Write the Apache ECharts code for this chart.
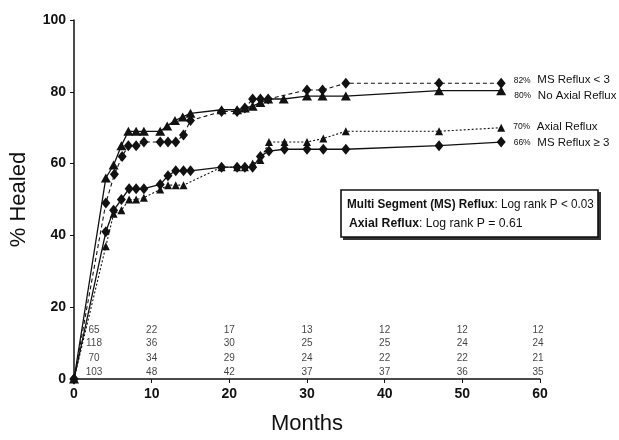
<!DOCTYPE html>
<html>
<head>
<meta charset="utf-8">
<script src="https://cdn.jsdelivr.net/npm/echarts@6/dist/echarts.min.js"></script>
<style>
  html, body { margin: 0; padding: 0; background: #fff; }
  #chart { width: 619px; height: 440px; }
</style>
</head>
<body>
<div id="chart"></div>
<script>
// curves: [month, % healed]
var msLow = [[0,0],[4.1,49],[5.2,57],[6.2,62],[7,65],[8,65],[9,66],[11.1,66],[12.1,66],[13.1,66],[14.1,68],[15,72],[19,74.5],[21,74.5],[22,75.5],[23,78],[24,78],[25,78],[30,80.5],[32,80.5],[35,82.4],[47,82.4],[55,82.4]];
var noAxial = [[0,0],[4.1,56],[5.1,59.6],[6.1,65],[7,69],[8,69],[9,69],[11.1,69],[12,70.5],[13,72],[14,73],[15,74],[19,75],[21,75],[22,75.5],[23,76],[24,77],[25,78],[27,78],[30,78.8],[32,78.8],[35,78.8],[47,80.3],[55,80.3]];
var axial = [[0,0],[4.1,37],[5.1,46],[6.1,47],[7.1,50],[8,50],[9,50.5],[11.1,52.8],[12.1,54],[13.1,54],[14.1,54],[19,59],[21,59],[22,59],[23,60],[24,61],[25.1,66],[27.1,66],[30,66],[32.1,67],[35,69],[47,69],[55,70]];
var msHigh = [[0,0],[4.1,41],[5.1,47],[6.1,50],[7.1,53],[8,53],[9,53],[11.1,54.2],[12.1,56.6],[13.1,58],[14.1,58],[15,58],[19,59],[21,59],[22,59],[23,59],[24,62],[25.1,63.5],[27.1,64],[30,64],[32.1,64],[35,64],[47,65],[55,66]];

var curveNames = ['MS Reflux < 3', 'No Axial Reflux', 'Axial Reflux', 'MS Reflux \u2265 3'];
var curvePct = ['82%', '80%', '70%', '66%'];

// numbers at risk
var riskMonths = [0, 10, 20, 30, 40, 50, 60];
var riskRows = [
  [65, 22, 17, 13, 12, 12, 12],
  [118, 36, 30, 25, 25, 24, 24],
  [70, 34, 29, 24, 22, 22, 21],
  [103, 48, 42, 37, 37, 36, 35]
];

var xTicks = [0, 10, 20, 30, 40, 50, 60];
var yTicks = [0, 20, 40, 60, 80, 100];

var sans = '"Liberation Sans", Arial, sans-serif';

function withEndLabel(data, idx, dy) {
  var out = data.slice(0, data.length - 1);
  var last = data[data.length - 1];
  out.push({
    value: last,
    label: {
      show: true,
      position: 'right',
      distance: 0,
      offset: [8, dy],
      formatter: '{p|' + curvePct[idx] + '}  {n|' + curveNames[idx] + '}',
      rich: {
        p: { fontSize: 8.5, fontFamily: sans, color: '#111' },
        n: { fontSize: 11.5, fontFamily: sans, color: '#111' }
      }
    }
  });
  return out;
}

// row heights for the at-risk table (in % units)
var rowY = [13.7, 9.9, 5.8, 1.9];
var riskData = [];
riskRows.forEach(function (row, r) {
  row.forEach(function (v, c) {
    riskData.push({
      value: [riskMonths[c], rowY[r]],
      label: { offset: c === 0 ? [20, 0] : (c === 6 ? [-2, 0] : [0, 0]), formatter: String(v) }
    });
  });
});

var lineBase = {
  type: 'line',
  color: '#111',
  silent: true,
  showAllSymbol: true,
  z: 3
};

var chartDom = document.getElementById('chart');
var myChart = echarts.init(chartDom);
var option = {
  animation: false,
  backgroundColor: '#fff',
  grid: { left: 69, right: 79, top: 20, bottom: 56, containLabel: false },
  xAxis: {
    type: 'value',
    min: 0, max: 60, interval: 10,
    name: 'Months',
    nameLocation: 'middle',
    nameGap: 34,
    nameTextStyle: { fontSize: 22, fontFamily: sans, color: '#111' },
    axisLine: { lineStyle: { color: '#111', width: 1.5 } },
    axisTick: { length: 4, lineStyle: { color: '#111' } },
    axisLabel: { fontSize: 14, fontWeight: 'bold', fontFamily: sans, color: '#111', margin: 8,
      formatter: function (v) { return xTicks.indexOf(v) >= 0 ? v : ''; } },
    splitLine: { show: false }
  },
  yAxis: {
    type: 'value',
    min: 0, max: 100, interval: 20,
    name: '% Healed',
    nameLocation: 'middle',
    nameGap: 44,
    nameTextStyle: { fontSize: 22, fontFamily: sans, color: '#111' },
    axisLine: { show: true, lineStyle: { color: '#111', width: 1.5 } },
    axisTick: { show: true, length: 4, lineStyle: { color: '#111' } },
    axisLabel: { fontSize: 14, fontWeight: 'bold', fontFamily: sans, color: '#111', margin: 8,
      formatter: function (v) { return yTicks.indexOf(v) >= 0 ? v : ''; } },
    splitLine: { show: false }
  },
  series: [
    Object.assign({}, lineBase, {
      name: curveNames[0],
      symbol: 'diamond', symbolSize: [9, 11],
      lineStyle: { color: '#111', width: 1.1, type: [4, 3] },
      data: withEndLabel(msLow, 0, -3)
    }),
    Object.assign({}, lineBase, {
      name: curveNames[1],
      symbol: 'triangle', symbolSize: [10, 9],
      lineStyle: { color: '#111', width: 1.3, type: 'solid' },
      data: withEndLabel(noAxial, 1, 5)
    }),
    Object.assign({}, lineBase, {
      name: curveNames[2],
      symbol: 'triangle', symbolSize: [8, 8],
      lineStyle: { color: '#111', width: 1.1, type: [2, 2] },
      data: withEndLabel(axial, 2, -1)
    }),
    Object.assign({}, lineBase, {
      name: curveNames[3],
      symbol: 'diamond', symbolSize: [9, 11],
      lineStyle: { color: '#111', width: 1.3, type: 'solid' },
      data: withEndLabel(msHigh, 3, 1)
    }),
    {
      type: 'scatter',
      silent: true,
      symbolSize: 1,
      itemStyle: { color: 'rgba(0,0,0,0)' },
      label: { show: true, position: 'inside', fontSize: 10, fontFamily: sans, color: '#111' },
      data: riskData,
      z: 4
    }
  ],
  graphic: [
    {
      type: 'rect',
      shape: { x: 343, y: 192, width: 258, height: 48 },
      style: { fill: '#333', stroke: null },
      z: 10
    },
    {
      type: 'rect',
      shape: { x: 341, y: 190, width: 257, height: 47 },
      style: { fill: '#fff', stroke: '#111', lineWidth: 1.6 },
      z: 11
    },
    {
      type: 'text',
      x: 347, y: 198,
      scaleX: 0.9,
      style: {
        text: '{b|Multi Segment (MS) Reflux}{r|: Log rank P < 0.03}',
        rich: {
          b: { fontSize: 13, fontWeight: 'bold', fontFamily: sans, fill: '#111' },
          r: { fontSize: 13, fontFamily: sans, fill: '#111' }
        }
      },
      z: 12
    },
    {
      type: 'text',
      x: 349, y: 217,
      scaleX: 0.94,
      style: {
        text: '{b|Axial Reflux}{r|: Log rank P = 0.61}',
        rich: {
          b: { fontSize: 13, fontWeight: 'bold', fontFamily: sans, fill: '#111' },
          r: { fontSize: 13, fontFamily: sans, fill: '#111' }
        }
      },
      z: 12
    }
  ]
};
option && myChart.setOption(option);
</script>
</body>
</html>
